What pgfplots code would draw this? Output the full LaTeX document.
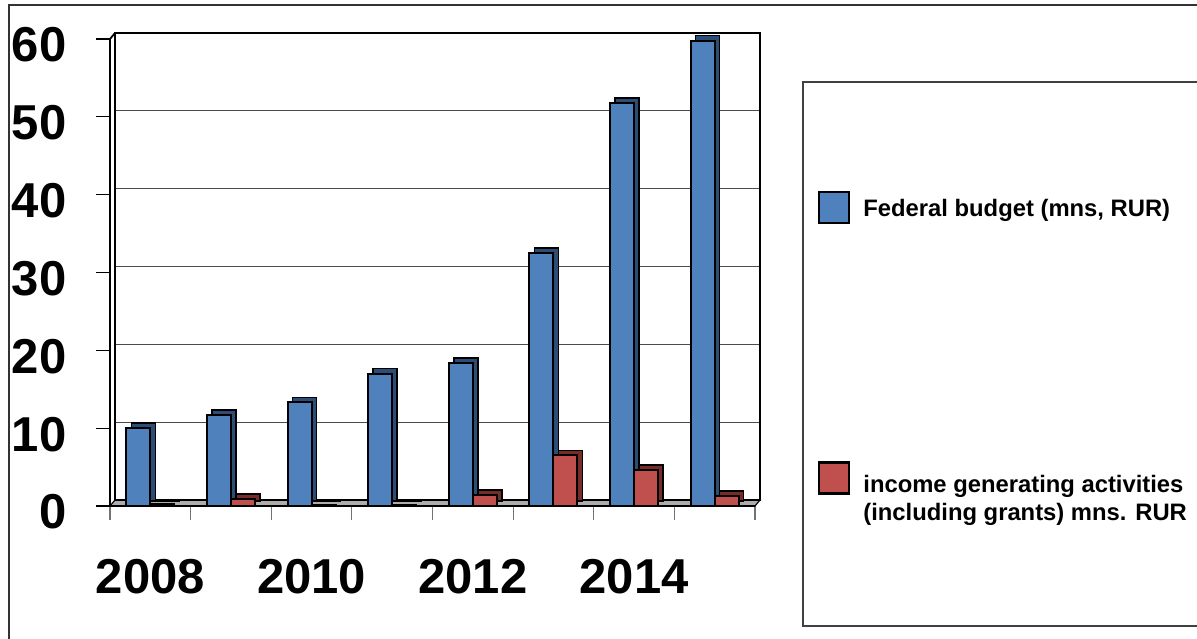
\documentclass[border=0pt]{standalone}
\usepackage{pgfplots}
\pgfplotsset{compat=1.18}
\usepackage{fontspec}
\setmainfont{Liberation Sans}
\definecolor{fbBlue}{HTML}{4F81BD}
\definecolor{fbBlueD}{HTML}{2C4D75}
\definecolor{igRed}{HTML}{C0504D}
\definecolor{igRedD}{HTML}{772C2A}
\pgfplotsset{
  squarelegend/.style={legend image code/.code={\draw[##1, line width=2.2pt] (0pt,-15pt) rectangle (30pt,16pt);}},
  squarelegendup/.style={legend image code/.code={\draw[##1, line width=2.2pt] (0pt,5pt) rectangle (30pt,36pt);}},
}
\begin{document}
\begin{tikzpicture}[x=1pt,y=1pt]
\useasboundingbox (0,0) rectangle (1197,639);
\draw[line width=1.5pt, black!80] (9,-5) -- (9,634) -- (1205,634);
\draw[line width=1.2pt, black!75] (803,13) rectangle (1205,557);
\begin{axis}[
  at={(110pt,133pt)}, anchor=south west,
  scale only axis, width=645pt, height=467pt,
  xmin=-0.5, xmax=7.5, ymin=0, ymax=60,
  clip=false,
  axis line style={draw=none},
  xtick pos=lower, ytick pos=left,
  ytick={0,10,...,60},
  xtick={-0.5,0.5,...,7.5}, xticklabels={},
  extra x ticks={0,2,4,6}, extra x tick labels={2008,2010,2012,2014},
  extra x tick style={major tick length=0pt, xmajorgrids=false, tick label style={yshift=-50pt}},
  tick align=outside, major tick length=14pt,
  x tick style={black!55, line width=1.2pt},
  y tick style={black, line width=1.2pt},
  ymajorgrids, major grid style={xshift=5pt, yshift=6pt, black!70, line width=1.2pt},
  tick label style={font=\fontsize{49}{49}\selectfont\bfseries},
  /pgf/number format/assume math mode=true,
  yticklabel style={xshift=-26pt, yshift=-6pt},
  legend style={at={(1,1)}, anchor=north west, xshift=63pt, yshift=-152pt,
    draw=none, fill=none, inner sep=0pt, row sep=237pt, column sep=13pt,
    font=\fontsize{23.8}{28}\selectfont\bfseries, cells={align=left}, nodes={inner sep=0pt}},
  legend cell align=left,
  squarelegend,
]
% floor
\draw[fill=black!32, draw=black, line width=1.2pt] (axis cs:-0.5,0) -- (axis cs:7.5,0) -- ([shift={(5pt,6pt)}]axis cs:7.5,0) -- ([shift={(5pt,6pt)}]axis cs:-0.5,0) -- cycle;
\draw[black, line width=2.2pt] (axis cs:-0.5,0) -- (axis cs:7.5,0);
% back wall
\draw[line width=2.5pt] ([shift={(5pt,6pt)}]axis cs:-0.5,0) rectangle ([shift={(5pt,6pt)}]axis cs:7.5,60);
% front left edge
\draw[line width=1.8pt] (axis cs:-0.5,0) -- (axis cs:-0.5,60) -- ([shift={(5pt,6pt)}]axis cs:-0.5,60);

\addplot[ybar, bar width=24pt, bar shift=-12pt, fill=fbBlueD, draw=black, line width=1.5pt, xshift=5pt, yshift=5pt, forget plot]
  coordinates {(0,10) (1,11.7) (2,13.3) (3,17) (4,18.4) (5,32.5) (6,51.8) (7,59.8)};
\addplot[ybar, bar width=24pt, bar shift=-12pt, fill=fbBlue, draw=black, line width=2pt]
  coordinates {(0,10) (1,11.7) (2,13.3) (3,17) (4,18.4) (5,32.5) (6,51.8) (7,59.8)};
\addlegendentry{Federal budget (mns, RUR)}
\addplot[ybar, bar width=24pt, bar shift=12pt, fill=igRedD, draw=black, line width=1.5pt, xshift=5pt, yshift=5pt, forget plot]
  coordinates {(0,0.2) (1,0.9) (2,0.1) (3,0.1) (4,1.4) (5,6.5) (6,4.6) (7,1.3)};
\addplot[ybar, bar width=24pt, bar shift=12pt, fill=igRed, draw=black, line width=2pt, squarelegendup]
  coordinates {(0,0.2) (1,0.9) (2,0.1) (3,0.1) (4,1.4) (5,6.5) (6,4.6) (7,1.3)};
\addlegendentry{income generating activities\\(including grants) mns. RUR}
\end{axis}
\end{tikzpicture}
\end{document}
